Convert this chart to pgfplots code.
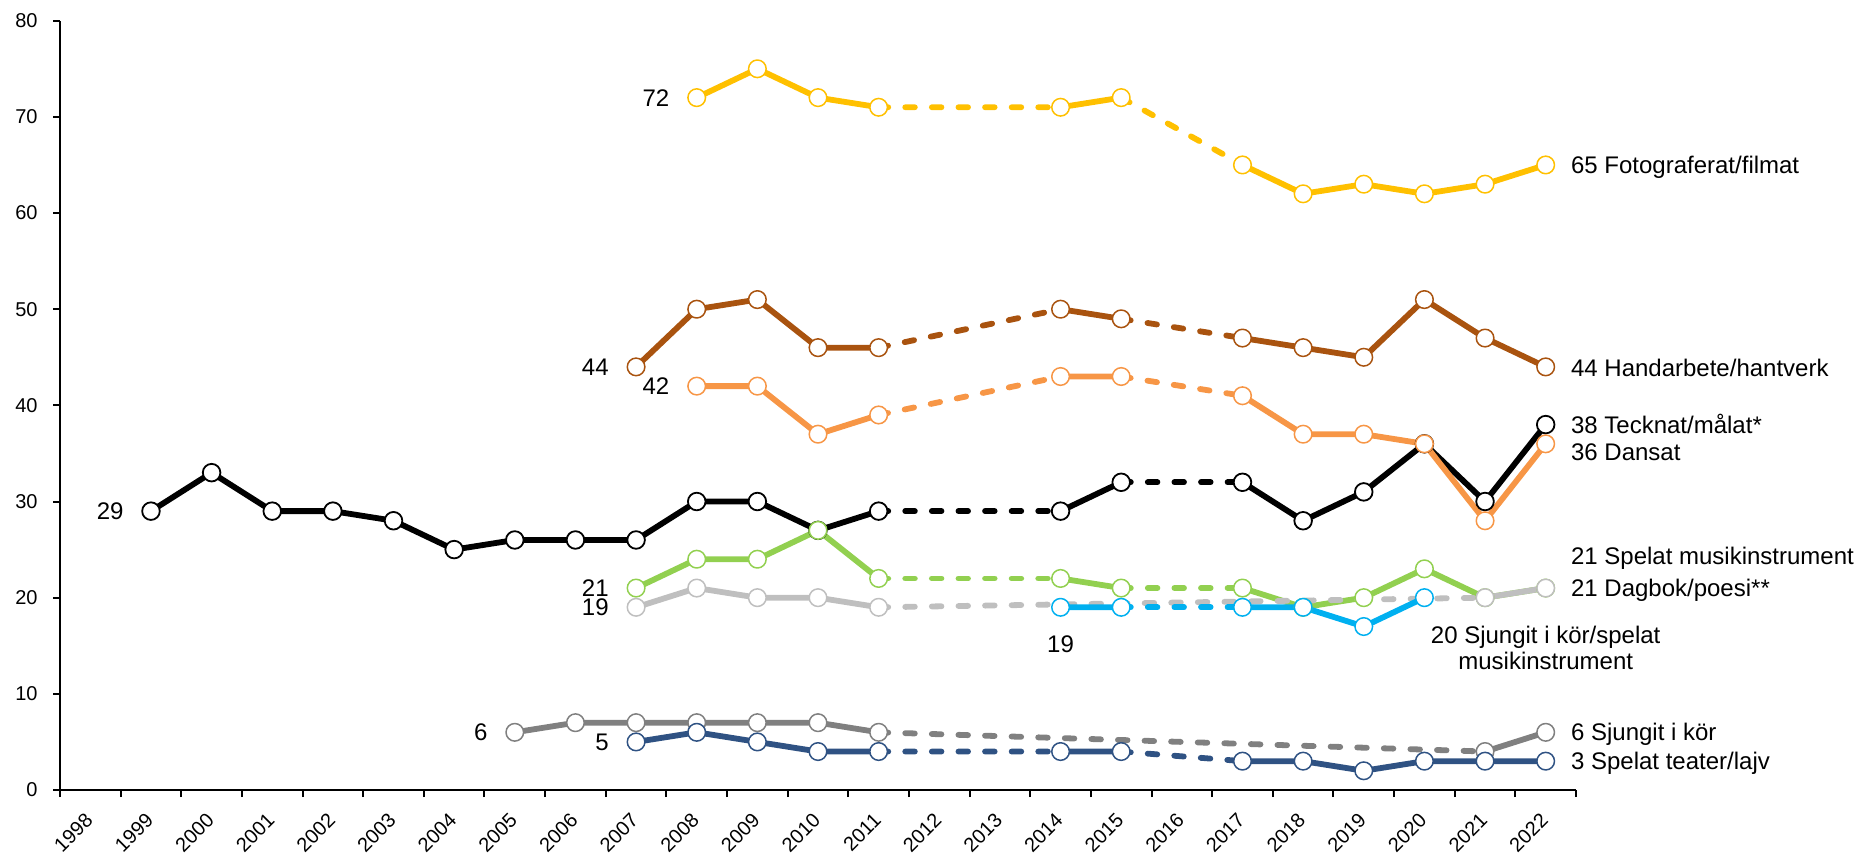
\documentclass[border=0pt]{standalone}
\usepackage{pgfplots}
\pgfplotsset{compat=1.18}
\usepackage{fontspec}
\setmainfont{Liberation Sans}
\definecolor{cYel}{HTML}{FFC000}
\definecolor{cBrn}{HTML}{A9530F}
\definecolor{cOra}{HTML}{F79646}
\definecolor{cGrn}{HTML}{92D050}
\definecolor{cLgr}{HTML}{BFBFBF}
\definecolor{cCya}{HTML}{00B0F0}
\definecolor{cDgr}{HTML}{808080}
\definecolor{cNav}{HTML}{2F5283}
\tikzset{lab/.style={font=\fontsize{12}{13}\selectfont, inner sep=0pt}}
\begin{document}
\begin{tikzpicture}
\path[use as bounding box] (-30pt,-33.5pt) rectangle (899pt,395pt);
\begin{axis}[
  at={(0,0)}, anchor=south west,
  scale only axis, width=758pt, height=384.65pt,
  xmin=1997.5, xmax=2022.5, ymin=0, ymax=80,
  axis x line=bottom, axis y line=left,
  axis line style={-, line width=1pt, black},
  tick style={line width=1pt, black},
  tick align=outside, major tick length=3.5pt,
  xtick={1997.5,1998.5,...,2022.5}, xticklabels={},
  extra x ticks={1998,1999,...,2022},
  extra x tick labels={1998,1999,2000,2001,2002,2003,2004,2005,2006,2007,2008,2009,2010,2011,2012,2013,2014,2015,2016,2017,2018,2019,2020,2021,2022},
  extra x tick style={major tick length=0pt,
    xticklabel style={xshift=-0.5pt, yshift=-13.4pt, rotate=45, anchor=east, inner sep=0pt, font=\fontsize{10}{11}\selectfont}},
  ytick={0,10,...,80},
  yticklabel style={inner sep=0pt, xshift=-7.5pt, font=\fontsize{10}{11}\selectfont},
  /pgf/number format/assume math mode=true,
  clip=false,
  unbounded coords=jump,
  every axis plot/.append style={line width=2.9pt, line join=round, line cap=round},
  mk/.style={mark=*, mark size=4.4pt, mark options={solid, fill=white, draw=#1, line width=0.75pt}},
  dsh/.style={dash pattern=on 4.8pt off 8.5pt},
]
% Fotograferat/filmat
\addplot[cYel, dsh] coordinates {(2011,71)(2014,71)(2014.5,nan)(2015,72)(2017,65)};
\addplot[cYel, mk=cYel] coordinates {(2008,72)(2009,75)(2010,72)(2011,71)(2012,nan)(2014,71)(2015,72)(2016,nan)(2017,65)(2018,62)(2019,63)(2020,62)(2021,63)(2022,65)};
% Handarbete/hantverk
\addplot[cBrn, dsh] coordinates {(2011,46)(2014,50)(2014.5,nan)(2015,49)(2017,47)};
\addplot[cBrn, mk=cBrn] coordinates {(2007,44)(2008,50)(2009,51)(2010,46)(2011,46)(2012,nan)(2014,50)(2015,49)(2016,nan)(2017,47)(2018,46)(2019,45)(2020,51)(2021,47)(2022,44)};
% Tecknat/malat
\addplot[black, dsh] coordinates {(2011,29)(2014,29)(2014.5,nan)(2015,32)(2017,32)};
\addplot[black, mark=*, mark size=4.4pt, mark options={solid, fill=white, draw=black, line width=0.9pt}] coordinates {(1999,29)(2000,33)(2001,29)(2002,29)(2003,28)(2004,25)(2005,26)(2006,26)(2007,26)(2008,30)(2009,30)(2010,27)(2011,29)(2012,nan)(2014,29)(2015,32)(2016,nan)(2017,32)(2018,28)(2019,31)(2020,36)(2021,30)(2022,38)};
% Dansat
\addplot[cOra, dsh] coordinates {(2011,39)(2014,43)(2014.5,nan)(2015,43)(2017,41)};
\addplot[cOra, mk=cOra] coordinates {(2008,42)(2009,42)(2010,37)(2011,39)(2012,nan)(2014,43)(2015,43)(2016,nan)(2017,41)(2018,37)(2019,37)(2020,36)(2021,28)(2022,36)};
% Spelat musikinstrument
\addplot[cGrn, dsh] coordinates {(2011,22)(2014,22)(2014.5,nan)(2015,21)(2017,21)};
\addplot[cGrn, mk=cGrn] coordinates {(2007,21)(2008,24)(2009,24)(2010,27)(2011,22)(2012,nan)(2014,22)(2015,21)(2016,nan)(2017,21)(2018,19)(2019,20)(2020,23)(2021,20)(2022,21)};
% Dagbok/poesi
\addplot[cLgr, dsh] coordinates {(2011,19)(2021,20)};
\addplot[cLgr, mk=cLgr] coordinates {(2007,19)(2008,21)(2009,20)(2010,20)(2011,19)(2012,nan)(2021,20)(2022,21)};
% Sjungit i kor/spelat musikinstrument
\addplot[cCya, dsh] coordinates {(2015,19)(2017,19)};
\addplot[cCya, mk=cCya] coordinates {(2014,19)(2015,19)(2016,nan)(2017,19)(2018,19)(2019,17)(2020,20)};
% Sjungit i kor
\addplot[cDgr, dsh] coordinates {(2011,6)(2021,4)};
\addplot[cDgr, mk=cDgr] coordinates {(2005,6)(2006,7)(2007,7)(2008,7)(2009,7)(2010,7)(2011,6)(2012,nan)(2021,4)(2022,6)};
% Spelat teater/lajv
\addplot[cNav, dsh] coordinates {(2011,4)(2014,4)(2014.5,nan)(2015,4)(2017,3)};
\addplot[cNav, mk=cNav] coordinates {(2007,5)(2008,6)(2009,5)(2010,4)(2011,4)(2012,nan)(2014,4)(2015,4)(2016,nan)(2017,3)(2018,3)(2019,2)(2020,3)(2021,3)(2022,3)};
% right labels
\node[lab, anchor=base west, xshift=12.5pt, yshift=-4.3pt] at (axis cs:2022,65) {65 Fotograferat/filmat};
\node[lab, anchor=base west, xshift=12.5pt, yshift=-4.3pt] at (axis cs:2022,43.9) {44 Handarbete/hantverk};
\node[lab, anchor=base west, xshift=12.5pt, yshift=-4.3pt] at (axis cs:2022,38) {38 Tecknat/målat*};
\node[lab, anchor=base west, xshift=12.5pt, yshift=-4.3pt] at (axis cs:2022,35.2) {36 Dansat};
\node[lab, anchor=base west, xshift=12.5pt, yshift=-4.3pt] at (axis cs:2022,24.35) {21 Spelat musikinstrument};
\node[lab, anchor=base west, xshift=12.5pt, yshift=-4.3pt] at (axis cs:2022,21.05) {21 Dagbok/poesi**};
\node[lab, anchor=base west, xshift=12.5pt, yshift=-4.3pt] at (axis cs:2022,6) {6 Sjungit i kör};
\node[lab, anchor=base west, xshift=12.5pt, yshift=-4.3pt] at (axis cs:2022,3) {3 Spelat teater/lajv};
\node[lab, align=center, anchor=center] at (axis cs:2022,14.75) {20 Sjungit i kör/spelat\\musikinstrument};
% left labels
\node[lab, anchor=base east, xshift=-13.5pt, yshift=-4.3pt] at (axis cs:1999,29) {29};
\node[lab, anchor=base east, xshift=-13.5pt, yshift=-4.3pt] at (axis cs:2008,72) {72};
\node[lab, anchor=base east, xshift=-13.5pt, yshift=-4.3pt] at (axis cs:2007,44) {44};
\node[lab, anchor=base east, xshift=-13.5pt, yshift=-4.3pt] at (axis cs:2008,42) {42};
\node[lab, anchor=base east, xshift=-13.5pt, yshift=-4.3pt] at (axis cs:2007,21) {21};
\node[lab, anchor=base east, xshift=-13.5pt, yshift=-4.3pt] at (axis cs:2007,19) {19};
\node[lab, anchor=base east, xshift=-13.5pt, yshift=-4.3pt] at (axis cs:2005,6) {6};
\node[lab, anchor=base east, xshift=-13.5pt, yshift=-4.3pt] at (axis cs:2007,5) {5};
\node[lab, anchor=base, yshift=-4.3pt] at (axis cs:2014,15.2) {19};
\end{axis}
\end{tikzpicture}
\end{document}
